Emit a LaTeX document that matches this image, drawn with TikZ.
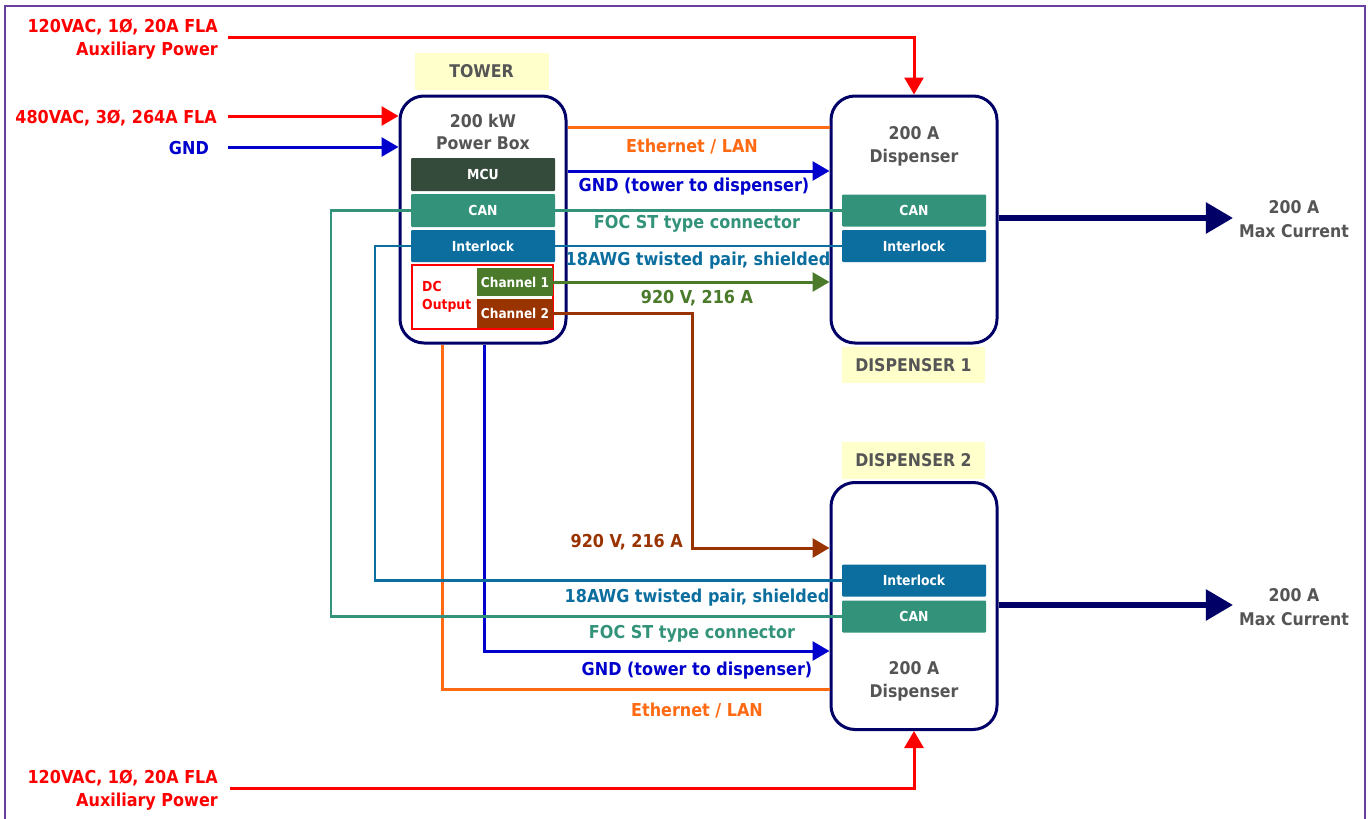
\documentclass[tikz,border=0pt]{standalone}
\usepackage{fontspec}
\setmainfont{DejaVu Sans Condensed}
\usetikzlibrary{arrows.meta}
\definecolor{cred}{HTML}{FF0000}
\definecolor{cblue}{HTML}{0000CC}
\definecolor{corange}{HTML}{FF6A13}
\definecolor{cteal}{HTML}{33937A}
\definecolor{cinter}{HTML}{0B6E9E}
\definecolor{cgreen}{HTML}{4A7A2A}
\definecolor{cbrown}{HTML}{993300}
\definecolor{cnavy}{HTML}{000066}
\definecolor{cmcu}{HTML}{344A3B}
\definecolor{cgray}{HTML}{555555}
\definecolor{cyel}{HTML}{FFFFCC}
\definecolor{cframe}{HTML}{6A3FA0}
\begin{document}
\begin{tikzpicture}[x=1pt,y=-1pt,
  boxU/.style={draw=cnavy, line width=3pt, rounded corners=24pt, fill=white, minimum width=166pt, minimum height=247pt, inner sep=0pt},
  subbox/.style={fill=#1, text=white, minimum width=144pt, minimum height=32pt, inner sep=0pt, font=\fontsize{13.8}{15}\bfseries, rounded corners=1pt},
  chbox/.style={fill=#1, text=white, minimum width=76pt, minimum height=28pt, inner sep=0pt, font=\fontsize{13.5}{15}\bfseries},
  tagbox/.style={fill=cyel, text=cgray, minimum width=134pt, minimum height=37pt, inner sep=0pt, font=\fontsize{17.5}{20}\bfseries},
  lbl/.style={text=#1, font=\fontsize{17.8}{23}\bfseries, inner sep=0pt, yshift=-1.5pt},
  wire/.style={draw=#1, line width=3pt},
  thin/.style={draw=#1, line width=2.5pt},
  arr/.style={-{Triangle[length=17pt,width=19pt]}},
  big/.style={draw=cnavy, line width=5.5pt, -{Triangle[length=27pt,width=30pt]}},
]
\useasboundingbox (0,0) rectangle (1369,819);
\draw[cframe, line width=1.5pt] (5,6) rectangle (1365,840);

% tags
\node[tagbox] (ttag) at (481.5,71.5) {TOWER};
\node[tagbox, minimum width=143pt, minimum height=36pt] (d1tag) at (913.5,365) {DISPENSER 1};
\node[tagbox, minimum width=143pt] (d2tag) at (913.5,460.5) {DISPENSER 2};

% units
\node[boxU] (tower) at (483,219.5) {};
\node[boxU] (d1) at (914,219.5) {};
\node[boxU] (d2) at (914,606) {};

% helper coordinates
\coordinate (yEth) at (0,127);
\coordinate (yGnd) at (0,171);
\coordinate (canx) at (331,0);
\coordinate (intx) at (375,0);
\coordinate (c2turn) at (692,548);
\coordinate (eth2) at (442,689);
\coordinate (gnd2) at (484,651);
\path (483,210.5) coordinate (tcanc) (483,246) coordinate (tintc);

% wires
\draw[wire=corange] (tower.east |- yEth) -- (d1.west |- yEth);
\draw[wire=cblue, arr] (tower.east |- yGnd) -- (d1.west |- yGnd);
\draw[wire=corange] (tower.south -| eth2) |- (d2.west |- eth2);
\draw[wire=cblue, arr] (tower.south -| gnd2) |- (d2.west |- gnd2);

\node[subbox=cteal] (d1can) at (914,210.5) {CAN};
\node[subbox=cinter] (d1int) at (914,246) {Interlock};
\node[subbox=cinter] (d2int) at (914,580.5) {Interlock};
\node[subbox=cteal] (d2can) at (914,616.5) {CAN};

\draw[thin=cteal] (d1can.west) -- (canx |- d1can.west) |- (d2can.west);
\draw[thin=cinter] (d1int.west) -- (intx |- d1int.west) |- (d2int.west);

\node[subbox=cmcu, minimum height=33pt] (mcu) at (483,174.5) {MCU};
\node[subbox=cteal, minimum height=33pt] (tcan) at (tcanc) {CAN};
\node[subbox=cinter] (tint) at (tintc) {Interlock};
\node[draw=cred, line width=2.2pt, fill=white, minimum width=141pt, minimum height=64pt, inner sep=0pt] (dc) at (482.5,297) {};
\node[anchor=west, align=left, text=cred, font=\fontsize{13.8}{18}\bfseries, inner sep=0pt] (dctxt) at (422,297) {DC\\Output};
\node[chbox=cgreen] (ch1) at (515,282) {Channel 1};
\node[chbox=cbrown, minimum height=29pt] (ch2) at (515,313.5) {Channel 2};

\draw[wire=cgreen, arr] (ch1.east) -- (d1.west |- ch1.east);
\draw[wire=cbrown, arr] (ch2.east) -| (c2turn) -- (d2.west |- c2turn);

% unit texts
\node[lbl=cgray, align=center, font=\fontsize{17.5}{22}\bfseries] (ttxt) at (483,130) {200 kW\\Power Box};
\node[lbl=cgray, align=center, font=\fontsize{17.5}{23}\bfseries] (d1txt) at (914,145) {200 A\\Dispenser};
\node[lbl=cgray, align=center, font=\fontsize{17.5}{23}\bfseries] (d2txt) at (914,680) {200 A\\Dispenser};

% inputs
\node[lbl=cred, align=right, anchor=east] (aux1) at (218,37.5) {120VAC, 1Ø, 20A FLA\\Auxiliary Power};
\coordinate (aux1e) at ([yshift=1.5pt]aux1.east);
\draw[wire=cred, arr, shorten <=10pt] (aux1e) -| (d1.north);
\node[lbl=cred, anchor=east] (v480) at (217,116) {480VAC, 3Ø, 264A FLA};
\coordinate (v480e) at ([yshift=1.5pt]v480.east);
\draw[wire=cred, arr, shorten <=11pt] (v480e) -- (tower.west |- v480e);
\node[lbl=cblue, anchor=east] (gnd) at (209,147) {GND};
\coordinate (gnde) at ([yshift=1.5pt]gnd.east);
\draw[wire=cblue, arr, shorten <=19pt] (gnde) -- (tower.west |- gnde);
\node[lbl=cred, align=right, anchor=east] (aux2) at (218,788.5) {120VAC, 1Ø, 20A FLA\\Auxiliary Power};
\coordinate (aux2e) at ([yshift=1.5pt]aux2.east);
\draw[wire=cred, arr, shorten <=12pt] (aux2e) -| (d2.south);

% wire labels
\node[lbl=corange] (l1) at (692,145) {Ethernet / LAN};
\node[lbl=cblue] (l2) at (694,185) {GND (tower to dispenser)};
\node[lbl=cteal] (l3) at (697,222) {FOC ST type connector};
\node[lbl=cinter] (l4) at (698,259) {18AWG twisted pair, shielded};
\node[lbl=cgreen] (l5) at (697,297) {920 V, 216 A};
\node[lbl=cbrown, anchor=east] (l6) at (683,541) {920 V, 216 A};
\node[lbl=cinter] (l7) at (697,596) {18AWG twisted pair, shielded};
\node[lbl=cteal] (l8) at (692,632) {FOC ST type connector};
\node[lbl=cblue] (l9) at (697,669) {GND (tower to dispenser)};
\node[lbl=corange] (l10) at (697,709) {Ethernet / LAN};

% max current
\node[lbl=cgray, align=center, font=\fontsize{17.5}{24}\bfseries] (mc1) at (1294,218) {200 A\\Max Current};
\node[lbl=cgray, align=center, font=\fontsize{17.5}{24}\bfseries] (mc2) at (1294,606) {200 A\\Max Current};
\coordinate (mc1w) at ([yshift=1.5pt]mc1.west);
\coordinate (mc2w) at ([yshift=2.5pt]mc2.west);
\draw[big, shorten >=6pt] (d1.east |- mc1w) -- (mc1w);
\draw[big, shorten >=6pt] (d2.east |- mc2w) -- (mc2w);
\end{tikzpicture}
\end{document}
